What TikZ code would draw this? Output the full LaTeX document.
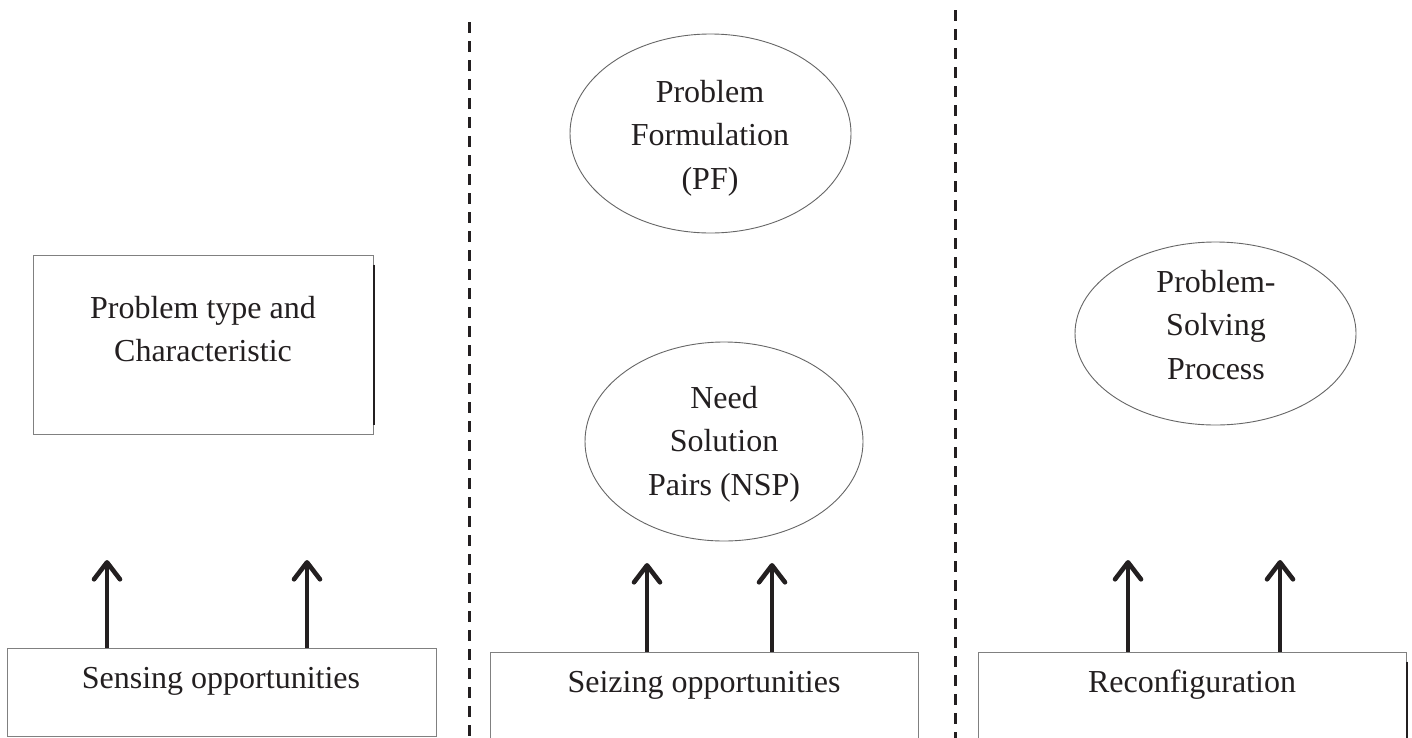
\documentclass[tikz,border=0pt]{standalone}
\usepackage{fontspec}
\setmainfont{Liberation Serif}
\usetikzlibrary{shapes.geometric,arrows.meta}
\definecolor{ink}{HTML}{231F20}
\begin{document}
\begin{tikzpicture}[x=1pt,y=-1pt,
  txt/.style={font=\fontsize{32}{43.5}\selectfont, text=ink, align=center, inner sep=0pt},
  boxn/.style={draw=black!50, line width=1pt, rectangle, inner sep=0pt},
  ell/.style={draw=black!60, line width=0.9pt, ellipse, inner sep=0pt},
  sep/.style={line width=2.6pt, ink, dash pattern=on 10.5pt off 8.5pt},
  arr/.style={line width=3.6pt, ink, -{Straight Barb[length=17pt,width=26pt,line width=4.6pt 0,round]}},
  edge/.style={line width=2pt, ink}]
\clip (0,0) rectangle (1412,737);
\fill[white] (0,0) rectangle (1412,737);

% separators
\coordinate (s1a) at (469.5,22); \coordinate (s1b) at (469.5,745);
\coordinate (s2a) at (955.3,10);   \coordinate (s2b) at (955.3,745);
\draw[sep] (s1a) -- (s1b);
\draw[sep] (s2a) -- (s2b);

% left column
\node[boxn, minimum width=340pt, minimum height=179pt] (ptc) at (203,344.5) {};
\draw[edge] ([yshift=-10pt]ptc.north east) -- ([yshift=10pt]ptc.south east);
\node[txt] (ptct) at (203,329) {Problem type and\\Characteristic};

\node[boxn, minimum width=429pt, minimum height=88pt] (sense) at (221.5,692) {};
\node[txt, anchor=base] (senset) at (221,688) {Sensing opportunities};
\coordinate (a1) at (107,560); \coordinate (a2) at (307,560);
\draw[arr] (a1 |- sense.north) -- (a1);
\draw[arr] (a2 |- sense.north) -- (a2);

% middle column
\node[ell, minimum width=281pt, minimum height=199pt] (pf) at (710.5,133.5) {};
\node[txt] (pft) at (710,138) {Problem\\Formulation\\(PF)};
\node[ell, minimum width=278pt, minimum height=199pt] (nsp) at (724,441.5) {};
\node[txt] (nspt) at (724,444) {Need\\Solution\\Pairs (NSP)};

\node[boxn, minimum width=428pt, minimum height=110pt] (seize) at (704,707) {};
\node[txt, anchor=base] (seizet) at (704,692) {Seizing opportunities};
\coordinate (b1) at (647,563); \coordinate (b2) at (772,563);
\draw[arr] (b1 |- seize.north) -- (b1);
\draw[arr] (b2 |- seize.north) -- (b2);

% right column
\node[ell, minimum width=281pt, minimum height=183pt] (psp) at (1215.5,333.5) {};
\node[txt] (pspt) at (1216,325) {Problem-\\Solving\\Process};

\node[boxn, minimum width=428pt, minimum height=110pt] (reconf) at (1192,707) {};
\node[txt, anchor=base] (reconft) at (1192,692) {Reconfiguration};
\draw[edge] ([yshift=-10pt]reconf.north east) -- (reconf.south east);
\coordinate (c1) at (1128,560); \coordinate (c2) at (1280,560);
\draw[arr] (c1 |- reconf.north) -- (c1);
\draw[arr] (c2 |- reconf.north) -- (c2);
\end{tikzpicture}
\end{document}
